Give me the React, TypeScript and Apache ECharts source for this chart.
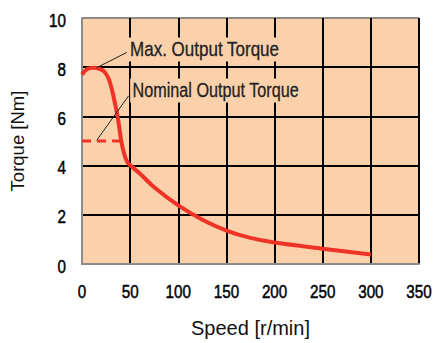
import React, { useEffect, useRef } from "react";
import * as echarts from "echarts";

const speed = [0, 5, 13, 20, 24, 28, 31, 34, 37.4, 40.9, 44, 47, 51, 60, 75, 100, 125, 150, 175, 200, 250, 300];
const torque = [7.7, 7.92, 7.98, 7.9, 7.78, 7.5, 7.1, 6.57, 5.9, 4.97, 4.45, 4.15, 3.98, 3.68, 3.12, 2.38, 1.8, 1.36, 1.06, 0.87, 0.62, 0.39];
const nominalSpeed = [0, 42.6];
const nominalTorque = [5, 5];
const xTickValues = [0, 50, 100, 150, 200, 250, 300, 350];
const xTickLabels = ["0", "50", "100", "150", "200", "250", "300", "350"];
const yTickValues = [0, 2, 4, 6, 8, 10];
const yTickLabels = ["0", "2", "4", "6", "8", "10"];
const labels = ["Max. Output Torque", "Nominal Output Torque"];
// leader lines: [from, to] in data coordinates
const leaderMax = [[15.3, 7.98], [46.5, 8.6]];
const leaderNom = [[15.3, 5.03], [48.5, 6.84]];
const labelAnchor = [[47.3, 8.72], [50.0, 7.05]];
const labelScale = [0.85, 0.81];

const REG = "'Liberation Sans', Arial, Helvetica, sans-serif";
const PEACH = "#fbd1ab";
const RED = "#ef3327";

export default function App() {
  const ref = useRef<HTMLDivElement>(null);
  useEffect(() => {
    if (!ref.current) return;
    const chart = echarts.init(ref.current, null, { renderer: "svg" });
    chart.setOption({
      animation: false,
      backgroundColor: "#ffffff",
      grid: { left: 82, right: 17, top: 18, bottom: 76, show: true, backgroundColor: PEACH, borderWidth: 0 },
      xAxis: {
        type: "value",
        min: 0,
        max: 350,
        interval: 50,
        name: "Speed [r/min]",
        nameLocation: "middle",
        nameGap: 54,
        nameTextStyle: { fontFamily: REG, fontSize: 20, color: "#111" },
        axisLine: { show: true, lineStyle: { color: "#8c8c8c", width: 2 } },
        axisTick: { show: false },
        axisLabel: { show: false },
        splitLine: { show: true, lineStyle: { color: ["#8c8c8c", "#000", "#000", "#000", "#000", "#000", "#000", "#000"], width: 2 } },
      },
      yAxis: {
        type: "value",
        min: 0,
        max: 10,
        interval: 2,
        name: "Torque [Nm]",
        nameLocation: "middle",
        nameGap: 55,
        nameTextStyle: { fontFamily: REG, fontSize: 18.5, color: "#111" },
        axisLine: { show: true, lineStyle: { color: "#8c8c8c", width: 2 } },
        axisTick: { show: false },
        axisLabel: { show: false },
        splitLine: { show: true, lineStyle: { color: ["#8c8c8c", "#000", "#000", "#000", "#000", "#8c8c8c"], width: 2 } },
      },
      series: [
        {
          type: "line",
          data: speed.map((s, i) => [s, torque[i]]),
          smooth: 0.35,
          showSymbol: false,
          lineStyle: { color: RED, width: 4 },
          z: 5,
        },
        {
          type: "line",
          data: nominalSpeed.map((s, i) => [s, nominalTorque[i]]),
          showSymbol: false,
          lineStyle: { color: RED, width: 3, type: [9, 6] },
          z: 5,
        },
        {
          type: "line",
          data: leaderMax,
          showSymbol: false,
          lineStyle: { color: "#222", width: 1 },
          z: 6,
        },
        {
          type: "line",
          data: leaderNom,
          showSymbol: false,
          lineStyle: { color: "#222", width: 1 },
          z: 6,
        },
      ],
    });

    const px = (v: number[]) => chart.convertToPixel({ gridIndex: 0 }, v) as number[];
    const graphics: any[] = [];
    xTickValues.forEach((v, i) => {
      const p = px([v, 0]);
      graphics.push({
        type: "text",
        x: p[0],
        y: p[1] + 27,
        scaleX: 0.8,
        z: 10,
        style: { text: xTickLabels[i], fontFamily: REG, fontSize: 19, fill: "#000", stroke: "#000", lineWidth: 0.5, align: "center", verticalAlign: "middle" },
      });
    });
    yTickValues.forEach((v, i) => {
      const p = px([0, v]);
      graphics.push({
        type: "text",
        x: p[0] - 16,
        y: p[1] + 2,
        scaleX: 0.8,
        z: 10,
        style: { text: yTickLabels[i], fontFamily: REG, fontSize: 19, fill: "#000", stroke: "#000", lineWidth: 0.5, align: "right", verticalAlign: "middle" },
      });
    });
    labelAnchor.forEach((a, i) => {
      const p = px(a);
      graphics.push({
        type: "text",
        x: p[0],
        y: p[1],
        scaleX: labelScale[i],
        z: 10,
        style: {
          text: labels[i],
          fontFamily: REG,
          fontSize: 20,
          fill: "#222",
          stroke: "#222",
          lineWidth: 0.3,
          align: "left",
          verticalAlign: "middle",
          backgroundColor: PEACH,
          padding: [2, 3, 2, 3],
        },
      });
    });
    chart.setOption({ graphic: graphics });
    return () => chart.dispose();
  }, []);
  return <div ref={ref} style={{ position: "fixed", left: 0, top: 0, width: 436, height: 343 }} />;
}
